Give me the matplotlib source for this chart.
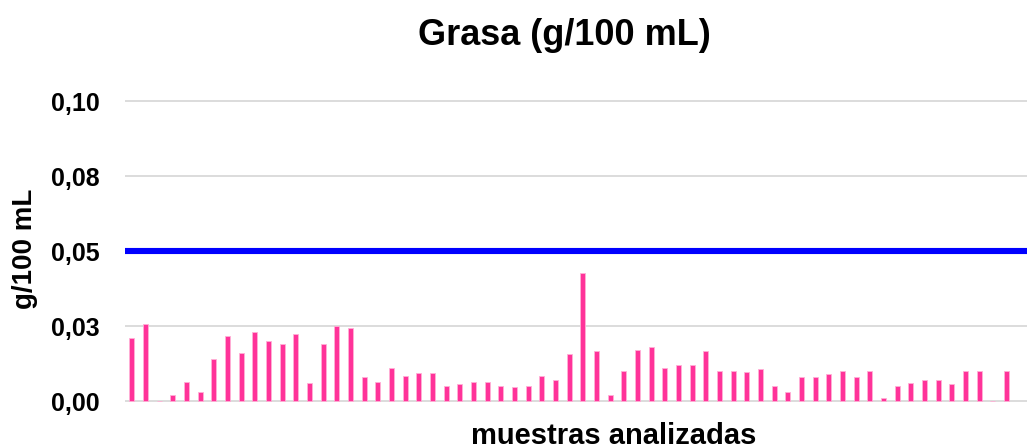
import matplotlib
matplotlib.use("Agg")
import matplotlib.pyplot as plt
import numpy as np

plt.rcParams['font.family'] = ['Liberation Sans', 'DejaVu Sans']

title = "Grasa (g/100 mL)"
x_label = "muestras analizadas"
y_label = "g/100 mL"
limit_value = 0.05
y_ticks = [0.0, 0.025, 0.05, 0.075, 0.10]
y_tick_labels = ["0,00", "0,03", "0,05", "0,08", "0,10"]
fat_values = [0.0209, 0.0258, 0, 0.002, 0.0063, 0.003, 0.0139, 0.0218, 0.016, 0.023,
              0.0199, 0.0189, 0.0224, 0.006, 0.0191, 0.025, 0.0244, 0.0081, 0.0065, 0.011,
              0.0083, 0.0094, 0.0092, 0.0051, 0.0057, 0.0063, 0.0062, 0.0051, 0.0048, 0.0051,
              0.0084, 0.0071, 0.0158, 0.0428, 0.0168, 0.002, 0.0099, 0.017, 0.0179, 0.011,
              0.0119, 0.0119, 0.0168, 0.0099, 0.0099, 0.0097, 0.0108, 0.005, 0.003, 0.008,
              0.008, 0.009, 0.01, 0.008, 0.0099, 0.001, 0.005, 0.006, 0.0071, 0.0071,
              0.0058, 0.01, 0.0099, 0, 0.0099]

W, H = 1027, 448
fig = plt.figure(figsize=(W / 100, H / 100), dpi=100)
# axes: x from 125 px to 1027 px; y: 0 at 401 px, 0.1 at 101 px (with small margin)
ymin, ymax = -0.002, 0.102
ppu = 3000.0
top_px = 101 - (ymax - 0.1) * ppu
bot_px = 401 + (0 - ymin) * ppu
ax = fig.add_axes([125 / W, 1 - bot_px / H, (1027 - 125) / W, (bot_px - top_px) / H])

x = np.arange(len(fat_values))
ax.bar(x, fat_values, width=0.38, color='#FF3399', edgecolor='#FFB0D6', linewidth=0.6, zorder=3)
ax.axhline(limit_value, color='#0000FF', lw=4.4, solid_capstyle='round', zorder=4)

ax.set_xlim(-0.5, len(fat_values) + 0.5)
ax.set_ylim(ymin, ymax)
ax.set_yticks(y_ticks)
ax.set_yticklabels(y_tick_labels, fontsize=18, fontweight='bold')
ax.set_xticks([])
ax.tick_params(axis='y', length=0, pad=18)
ax.grid(axis='y', color='#D9D9D9', lw=1.3, zorder=0)
for s in ax.spines.values():
    s.set_visible(False)

fig.text(564 / W, 1 - 45 / H, title, ha='center', va='baseline', fontsize=26, fontweight='bold')
fig.text(614 / W, 1 - 444 / H, x_label, ha='center', va='baseline', fontsize=21, fontweight='bold')
fig.text(25 / W, 1 - 248.5 / H, y_label, ha='center', va='center', rotation=90, fontsize=20, fontweight='bold')

fig.savefig("out.png", dpi=100)
